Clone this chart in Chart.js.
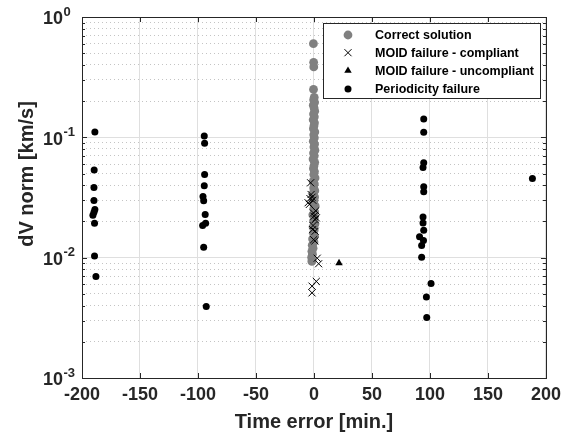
<!DOCTYPE html>
<html>
<head>
<meta charset="utf-8">
<script src="https://cdn.jsdelivr.net/npm/chart.js@4.4.0/dist/chart.umd.min.js"></script>
<style>
  html, body { margin: 0; padding: 0; background: #fff; }
  #wrap { width: 567px; height: 439px; }
</style>
</head>
<body>
<div id="wrap"><canvas id="chart"></canvas></div>
<script>
// values
const correctX = [-0.5, -0.3, -0.2, -0.4,
  0.2, -0.3, 0.5, -0.6, 0.1, 0.6, -0.4, 0.3, -0.7, 0.4, 0, -0.5, 0.7, -0.2, 0.3, -0.6,
  0.5, -0.1, 0.8, -0.4, 0.2, -0.8, 0.6, 0, -0.5, 0.4, -0.2, 0.9, -0.7, 0.3, -0.3, 0.7,
  -0.9, 0.5, 0.1, -0.6, 1.0, -0.2, 0.6, -1.0, 0.3, -0.4, 0.8, -0.8,
  0.2, -0.5, 0.4, -1.2, 0, -1.5, -0.8, -1.8, -1.3, -2.0, -1.6, -1.8];
const correctY = [0.60, 0.42, 0.385, 0.25,
  0.215, 0.205, 0.195, 0.185, 0.175, 0.165, 0.156, 0.148, 0.14, 0.132, 0.125, 0.118, 0.111, 0.105, 0.099, 0.093,
  0.088, 0.083, 0.078, 0.074, 0.07, 0.066, 0.062, 0.058, 0.055, 0.052, 0.049, 0.046, 0.043, 0.041, 0.038, 0.036,
  0.034, 0.032, 0.030, 0.0285, 0.027, 0.0255, 0.024, 0.0227, 0.0214, 0.0202, 0.019, 0.018,
  0.017, 0.016, 0.0151, 0.0143, 0.0135, 0.0127, 0.012, 0.0113, 0.0107, 0.0101, 0.0096, 0.0093];

const compliantX = [-2.9, -2.5, -1.7, -3.5, -5.1, -4, -1, 0, 2, 1, -0.5, 1.5, -1.2, 1, -0.3, 0.8, -0.8, 2.8, 4, 2, -1.7, -1.7];
const compliantY = [0.0419, 0.0335, 0.0318, 0.031, 0.0286, 0.0277, 0.030, 0.0221, 0.0214, 0.0207, 0.0235, 0.0245,
  0.0171, 0.0166, 0.0141, 0.0138, 0.0185, 0.0099, 0.0089, 0.00635, 0.0058, 0.0051];

const uncompliantX = [21.6];
const uncompliantY = [0.00903];

const periodicX = [-188.9, -189.5, -189.7, -189.7, -188.9, -189.7, -190.6, -189.2, -189.2, -188.0,
  -94.6, -94.3, -94.3, -94.6, -95.7, -95.1, -93.8, -93.4, -96.0, -95.1, -92.9,
  94.6, 94.6, 94.6, 94.0, 94.6, 94.6, 94.0, 94.0, 94.6, 91.0, 94.4, 92.8, 92.8, 100.9, 96.9, 97.2,
  188.3];
const periodicY = [0.111, 0.0534, 0.0383, 0.0299, 0.0251, 0.0239, 0.0225, 0.0193, 0.0103, 0.00699,
  0.1026, 0.0891, 0.0492, 0.0396, 0.0322, 0.0297, 0.0228, 0.0193, 0.0185, 0.0122, 0.00393,
  0.142, 0.110, 0.0615, 0.0562, 0.0388, 0.0353, 0.0218, 0.0194, 0.0169, 0.0149, 0.0139, 0.0126, 0.0101, 0.0061, 0.0047, 0.00318,
  0.0455];

const xTicks = [-200, -150, -100, -50, 0, 50, 100, 150, 200];
const yTicks = [0.001, 0.002, 0.003, 0.004, 0.005, 0.006, 0.007, 0.008, 0.009,
  0.01, 0.02, 0.03, 0.04, 0.05, 0.06, 0.07, 0.08, 0.09,
  0.1, 0.2, 0.3, 0.4, 0.5, 0.6, 0.7, 0.8, 0.9, 1];
const yDecades = [0.001, 0.01, 0.1, 1];
const yDecadeExp = ['-3', '-2', '-1', '0'];
const yTitle = 'dV norm [km/s]';

const FONT = "'Liberation Sans', Arial, Helvetica, sans-serif";
const AXIS_COLOR = '#262626';

function pts(xs, ys) {
  return xs.map((x, i) => ({ x: x, y: ys[i] }));
}
function isDecade(v) {
  const l = Math.log10(v);
  return Math.abs(l - Math.round(l)) < 1e-9;
}

// box, inward ticks, y labels with exponents, y title and the legend
const decorations = {
  id: 'decorations',
  afterDraw(chart) {
    const ctx = chart.ctx;
    const a = chart.chartArea;
    const xs = chart.scales.x, ys = chart.scales.y;
    ctx.save();
    ctx.strokeStyle = AXIS_COLOR;
    ctx.lineWidth = 1;
    ctx.beginPath();
    xTicks.forEach(v => {
      const px = Math.round(xs.getPixelForValue(v)) + 0.5;
      ctx.moveTo(px, a.bottom); ctx.lineTo(px, a.bottom - 5);
      ctx.moveTo(px, a.top); ctx.lineTo(px, a.top + 5);
    });
    yTicks.forEach(v => {
      const py = Math.round(ys.getPixelForValue(v)) + 0.5;
      const len = isDecade(v) ? 5 : 3;
      ctx.moveTo(a.left, py); ctx.lineTo(a.left + len, py);
      ctx.moveTo(a.right, py); ctx.lineTo(a.right - len, py);
    });
    ctx.stroke();
    ctx.strokeRect(Math.round(a.left) + 0.5, Math.round(a.top) + 0.5,
      Math.round(a.right - a.left), Math.round(a.bottom - a.top));

    // y tick labels 10^n
    ctx.fillStyle = AXIS_COLOR;
    ctx.textAlign = 'left';
    ctx.textBaseline = 'middle';
    yDecades.forEach((v, i) => {
      const py = ys.getPixelForValue(v);
      ctx.font = 'bold 18px ' + FONT;
      ctx.fillText('10', 43, py + 2.5);
      const w = ctx.measureText('10').width;
      ctx.font = 'bold 13px ' + FONT;
      ctx.fillText(yDecadeExp[i], 43 + w + 0.5, py - 5);
    });

    // y axis title
    ctx.save();
    ctx.translate(27, 174);
    ctx.rotate(-Math.PI / 2);
    ctx.textAlign = 'center';
    ctx.font = 'bold 20px ' + FONT;
    ctx.fillText(yTitle, 0, 0);
    ctx.restore();

    // legend
    const lx = 323.5, ly = 23.5, lw = 217, lh = 75;
    ctx.fillStyle = '#fff';
    ctx.fillRect(lx, ly, lw, lh);
    ctx.strokeStyle = AXIS_COLOR;
    ctx.lineWidth = 1;
    ctx.strokeRect(lx, ly, lw, lh);
    const rows = [35, 52.7, 70.7, 89];
    chart.data.datasets.forEach((ds, i) => {
      ctx.fillStyle = ds.backgroundColor;
      ctx.strokeStyle = ds.borderColor;
      ctx.lineWidth = ds.borderWidth || 1;
      Chart.helpers.drawPoint(ctx, {
        pointStyle: ds.pointStyle, radius: ds.pointRadius, rotation: 0, borderWidth: ds.borderWidth
      }, 348, rows[i]);
      ctx.fillStyle = '#000';
      ctx.font = 'bold 12.5px ' + FONT;
      ctx.textAlign = 'left';
      ctx.textBaseline = 'middle';
      ctx.fillText(ds.label, 375, rows[i] + 0.5);
    });
    ctx.restore();
  }
};

new Chart(document.getElementById('chart'), {
  type: 'scatter',
  data: {
    datasets: [
      {
        label: 'Correct solution', data: pts(correctX, correctY), order: 3,
        pointStyle: 'circle', pointRadius: 4.4, backgroundColor: '#808080', borderColor: '#808080', borderWidth: 0
      },
      {
        label: 'MOID failure - compliant', data: pts(compliantX, compliantY), order: 1,
        pointStyle: 'crossRot', pointRadius: 5, backgroundColor: '#000', borderColor: '#000', borderWidth: 1
      },
      {
        label: 'MOID failure - uncompliant', data: pts(uncompliantX, uncompliantY), order: 0,
        pointStyle: 'triangle', pointRadius: 4.3, backgroundColor: '#000', borderColor: '#000', borderWidth: 0
      },
      {
        label: 'Periodicity failure', data: pts(periodicX, periodicY), order: 2,
        pointStyle: 'circle', pointRadius: 3.5, backgroundColor: '#000', borderColor: '#000', borderWidth: 0
      }
    ]
  },
  options: {
    responsive: true,
    maintainAspectRatio: false,
    animation: false,
    layout: { padding: { top: 17, right: 17, left: 0, bottom: 0 } },
    plugins: { legend: { display: false }, tooltip: { enabled: false } },
    scales: {
      x: {
        type: 'linear', min: -200, max: 200,
        afterBuildTicks: s => { s.ticks = xTicks.map(v => ({ value: v })); },
        afterFit: s => { s.height = 61; },
        ticks: { font: { family: FONT, size: 18, weight: 'bold' }, color: AXIS_COLOR, padding: 6, maxRotation: 0 },
        grid: { drawTicks: false, color: '#dfdfdf' },
        border: { display: false },
        title: {
          display: true, text: 'Time error [min.]', color: AXIS_COLOR,
          font: { family: FONT, size: 20, weight: 'bold' }, padding: { top: 0, bottom: 5 }
        }
      },
      y: {
        type: 'logarithmic', min: 0.001, max: 1,
        afterBuildTicks: s => { s.ticks = yTicks.map(v => ({ value: v })); },
        afterFit: s => { s.width = 82; },
        ticks: { display: false },
        grid: {
          drawTicks: false,
          color: c => (c.tick && !isDecade(c.tick.value)) ? '#c4c4c4' : '#dfdfdf'
        },
        border: {
          display: false,
          dash: c => (c.tick && !isDecade(c.tick.value)) ? [1, 3] : []
        },
        title: { display: false }
      }
    }
  },
  plugins: [decorations]
});
</script>
</body>
</html>
